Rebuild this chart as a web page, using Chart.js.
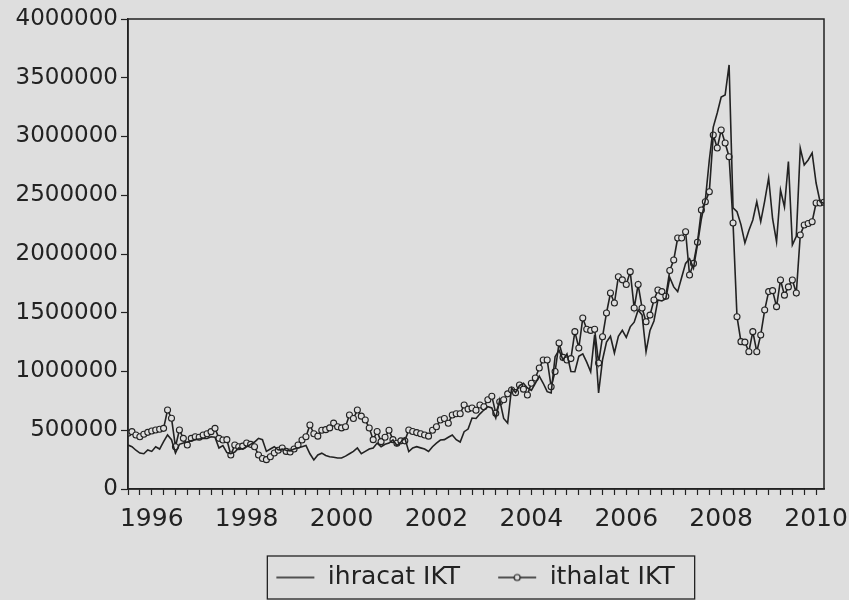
<!DOCTYPE html>
<html>
<head>
<meta charset="utf-8">
<script src="https://cdn.jsdelivr.net/npm/chart.js@4.4.1/dist/chart.umd.min.js"></script>
<style>
  html, body { margin: 0; padding: 0; background: #dedede; }
  #wrap { width: 849px; height: 600px; }
</style>
</head>
<body>
<div id="wrap"><canvas id="chart" width="849" height="600"></canvas></div>
<script>
// Monthly series, 1996M01 .. 2010M09, values in thousands
const seriesNames = ['ihracat IKT', 'ithalat IKT'];
const yearLabels = ['1996', '1998', '2000', '2002', '2004', '2006', '2008', '2010'];
const yTicks = [0, 500000, 1000000, 1500000, 2000000, 2500000, 3000000, 3500000, 4000000];

const ihracat = [
    374, 360, 330, 306, 300, 332, 320, 360, 340, 403, 460, 420,   // 1996
    306, 380, 391, 400, 410, 420, 425, 430, 430, 445, 440, 349,   // 1997
    370, 310, 300, 315, 350, 340, 360, 380, 400, 431, 420, 320,   // 1998
    340, 360, 332, 340, 330, 325, 340, 349, 360, 370, 300, 247,   // 1999
    290, 305, 285, 275, 270, 264, 264, 280, 300, 320, 349, 300,   // 2000
    320, 340, 349, 391, 360, 380, 391, 417, 370, 400, 434, 318,   // 2001
    350, 360, 350, 340, 320, 360, 390, 417, 420, 440, 460, 420,   // 2002
    400, 488, 510, 604, 600, 640, 672, 700, 690, 604, 757, 600,   // 2003
    561, 860, 820, 880, 900, 860, 840, 900, 960, 900, 828, 817,   // 2004
    1126, 1180, 1100, 1150, 1000, 998, 1130, 1150, 1080, 998, 1311, 817,   // 2005
    1100, 1250, 1300, 1157, 1300, 1350, 1290, 1380, 1420, 1523, 1480, 1168, // 2006
    1350, 1430, 1609, 1600, 1620, 1800, 1720, 1680, 1800, 1920, 1960, 1880, // 2007
    2080, 2300, 2460, 2800, 3080, 3200, 3336, 3353, 3609, 2392, 2360, 2250, // 2008
    2094, 2200, 2290, 2445, 2275, 2450, 2647, 2300, 2105, 2545, 2400, 2786, // 2009
    2077, 2150, 2900, 2758, 2800, 2860, 2604, 2445, 2430                    // 2010
];

const ithalat = [
    474, 488, 460, 445, 466, 482, 494, 502, 508, 516, 672, 602,   // 1996
    360, 502, 431, 374, 431, 445, 440, 460, 470, 488, 516, 431,   // 1997
    417, 420, 289, 374, 360, 365, 391, 380, 360, 290, 260, 250,   // 1998
    275, 306, 330, 349, 320, 315, 340, 374, 417, 445, 545, 470,   // 1999
    450, 500, 505, 520, 561, 530, 520, 530, 630, 600, 672, 620,   // 2000
    587, 519, 420, 490, 403, 440, 500, 420, 390, 410, 410, 502,   // 2001
    490, 480, 470, 460, 450, 500, 530, 587, 600, 560, 630, 640,   // 2002
    640, 715, 680, 690, 670, 715, 700, 760, 790, 645, 743, 760,   // 2003
    810, 843, 820, 885, 850, 800, 900, 945, 1030, 1098, 1098, 870, // 2004
    1000, 1243, 1120, 1098, 1110, 1339, 1200, 1455, 1360, 1350, 1360, 1072, // 2005
    1296, 1498, 1668, 1583, 1807, 1780, 1740, 1850, 1540, 1740, 1540, 1424, // 2006
    1480, 1609, 1694, 1680, 1640, 1860, 1949, 2136, 2136, 2190, 1821, 1920, // 2007
    2100, 2375, 2445, 2530, 3013, 2902, 3055, 2945, 2828, 2264, 1466, 1254, // 2008
    1250, 1168, 1339, 1168, 1311, 1523, 1680, 1688, 1552, 1779, 1650, 1720, // 2009
    1779, 1668, 2162, 2247, 2260, 2275, 2434, 2434, 2440                    // 2010
];

const ink = '#222222';
const paper = '#dedede';

const toPoints = arr => arr.map((v, i) => ({ x: i, y: v * 1000 }));
const lastMonth = ihracat.length - 1;

function makeSample(withCircle) {
    const c = document.createElement('canvas');
    c.width = 40; c.height = 14;
    const g = c.getContext('2d');
    g.strokeStyle = ink;
    g.lineWidth = 1.5;
    g.beginPath(); g.moveTo(1, 7); g.lineTo(39, 7); g.stroke();
    if (withCircle) {
        g.fillStyle = paper;
        g.lineWidth = 1.2;
        g.beginPath(); g.arc(20, 7, 3, 0, Math.PI * 2); g.fill(); g.stroke();
    }
    return c;
}
const samples = [makeSample(false), makeSample(true)];

const legendShift = 63;

// paper background, frame around plot, box around legend
const decor = {
    id: 'decor',
    afterLayout(chart) {
        // legend sits a little right of centre in the original
        const lg = chart.legend;
        lg.left += legendShift;
        lg.right += legendShift;
        (lg.legendHitBoxes || []).forEach(b => { b.left += legendShift; });
    },
    beforeDraw(chart) {
        const ctx = chart.ctx;
        ctx.save();
        ctx.fillStyle = paper;
        ctx.fillRect(0, 0, chart.width, chart.height);
        ctx.restore();
    },
    afterDraw(chart) {
        const ctx = chart.ctx;
        const a = chart.chartArea;
        ctx.save();
        ctx.strokeStyle = ink;
        ctx.lineWidth = 1.5;
        ctx.strokeRect(a.left, a.top, a.right - a.left, a.bottom - a.top);
        const boxes = chart.legend.legendHitBoxes;
        if (boxes && boxes.length) {
            const l = Math.min(...boxes.map(b => b.left)) - 8;
            const r = Math.max(...boxes.map(b => b.left + b.width)) + 20;
            const t = boxes[0].top - 9;
            const btm = boxes[0].top + boxes[0].height + 9;
            ctx.lineWidth = 1.3;
            ctx.strokeRect(l, t, r - l, btm - t);
        }
        ctx.restore();
    }
};

Chart.defaults.font.family = "'DejaVu Sans', sans-serif";
Chart.defaults.font.size = 23;
Chart.defaults.color = ink;

new Chart(document.getElementById('chart').getContext('2d'), {
    type: 'line',
    data: {
        datasets: [{
            label: seriesNames[0],
            data: toPoints(ihracat),
            borderColor: ink,
            borderWidth: 1.6,
            pointRadius: 0,
            tension: 0
        }, {
            label: seriesNames[1],
            data: toPoints(ithalat),
            borderColor: ink,
            borderWidth: 1.6,
            pointRadius: 3,
            pointBorderWidth: 1.1,
            pointBorderColor: ink,
            pointBackgroundColor: paper,
            tension: 0
        }]
    },
    options: {
        responsive: false,
        animation: false,
        layout: { padding: { top: 19, right: 25, left: 0, bottom: 0 } },
        plugins: {
            tooltip: { enabled: false },
            legend: {
                position: 'bottom',
                labels: {
                    usePointStyle: true,
                    pointStyleWidth: 40,
                    padding: 37,
                    font: { size: 25 },
                    generateLabels(chart) {
                        const items = Chart.defaults.plugins.legend.labels.generateLabels(chart);
                        items.forEach((it, i) => { it.pointStyle = samples[i]; });
                        return items;
                    }
                }
            }
        },
        scales: {
            x: {
                type: 'linear',
                min: 0,
                max: lastMonth,
                afterBuildTicks(axis) {
                    const t = [];
                    for (let m = 0; m <= lastMonth; m += 3) t.push({ value: m });
                    axis.ticks = t;
                },
                afterFit(axis) {
                    axis.height = 39;
                    axis.paddingLeft = 0;
                    axis.paddingRight = 0;
                },
                grid: { drawOnChartArea: false, drawTicks: true, tickLength: 6, color: ink, tickWidth: 1.2 },
                border: { color: ink, width: 1.5 },
                ticks: {
                    autoSkip: false,
                    maxRotation: 0,
                    padding: 9,
                    font: { size: 25 },
                    callback(value) {
                        if ((value - 6) % 24 === 0) return yearLabels[(value - 6) / 24] || '';
                        return '';
                    }
                }
            },
            y: {
                min: 0,
                max: 4000000,
                afterBuildTicks(axis) { axis.ticks = yTicks.map(v => ({ value: v })); },
                afterFit(axis) {
                    axis.width = 128;
                    axis.paddingTop = 0;
                    axis.paddingBottom = 0;
                },
                grid: { drawOnChartArea: false, drawTicks: true, tickLength: 7, color: ink, tickWidth: 1.2 },
                border: { color: ink, width: 1.5 },
                ticks: {
                    padding: 3,
                    callback: v => String(v)
                }
            }
        }
    },
    plugins: [decor]
});
</script>
</body>
</html>
